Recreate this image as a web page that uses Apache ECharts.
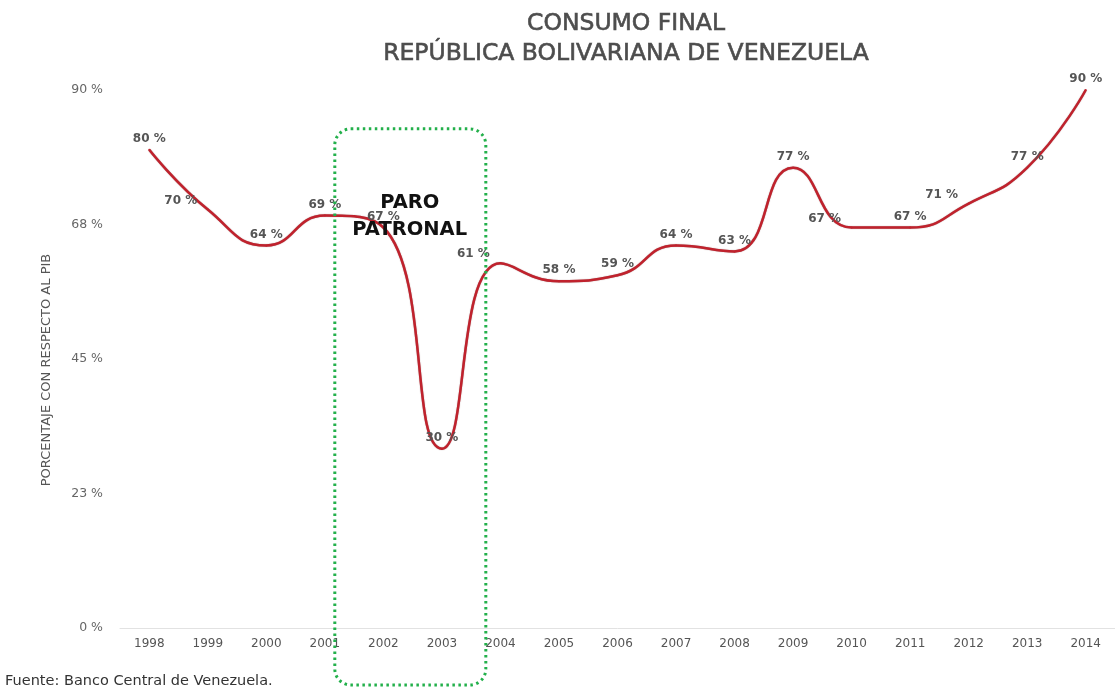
<!DOCTYPE html>
<html>
<head>
<meta charset="utf-8">
<script src="https://cdn.jsdelivr.net/npm/echarts@6/dist/echarts.min.js"></script>
<style>
html,body{margin:0;padding:0;background:#fff;}
#chart{width:1115px;height:690px;}
</style>
</head>
<body>
<div id="chart"></div>
<script>
const years = ['1998','1999','2000','2001','2002','2003','2004','2005','2006','2007','2008','2009','2010','2011','2012','2013','2014'];
const consumo = [80, 70, 64, 69, 67, 30, 61, 58, 59, 64, 63, 77, 67, 67, 71, 77, 90];
const yTicks = [0, 22.5, 45, 67.5, 90];
const titleLines = ['CONSUMO FINAL', 'REPÚBLICA BOLIVARIANA DE VENEZUELA'];
const yAxisTitle = 'PORCENTAJE CON RESPECTO AL PIB';
const annotation = 'PARO\nPATRONAL';
const fuente = 'Fuente: Banco Central de Venezuela.';

const leftShifted = ['1999', '2004', '2010', '2012'];
const font = '"DejaVu Sans", Verdana, sans-serif';

const chart = echarts.init(document.getElementById('chart'));

chart.setOption({
  animation: false,
  backgroundColor: '#fff',
  title: {
    text: titleLines.join('\n'),
    left: 621,
    top: 4,
    textAlign: 'center',
    textStyle: {
      fontFamily: font, fontSize: 23.5, fontWeight: 'normal', color: '#4d4d4d', lineHeight: 30,
      textBorderColor: '#4d4d4d', textBorderWidth: 0.6
    }
  },
  grid: { left: 120, width: 1000, top: 90, bottom: 62 },
  xAxis: {
    type: 'category',
    data: years,
    boundaryGap: true,
    axisLine: { lineStyle: { color: '#e2e2e2', width: 1 } },
    axisTick: { show: false },
    axisLabel: { color: '#555', fontFamily: font, fontSize: 12, margin: 10 }
  },
  yAxis: {
    type: 'value',
    min: yTicks[0], max: yTicks[yTicks.length - 1], interval: yTicks[1] - yTicks[0],
    axisLine: { show: false },
    axisTick: { show: false },
    splitLine: { show: false },
    axisLabel: {
      color: '#666', fontFamily: font, fontSize: 12.5, margin: 17,
      formatter: v => Math.round(v) + ' %'
    }
  },
  series: [{
    type: 'line',
    data: consumo,
    smooth: 0.5,
    symbol: 'circle',
    symbolSize: 2,
    showSymbol: true,
    itemStyle: { color: '#c0222d' },
    lineStyle: { color: '#c0222d', width: 2.5, shadowColor: 'rgba(80,0,0,0.5)', shadowBlur: 1 },
    label: {
      show: true, position: 'top', distance: 4,
      color: '#555', fontFamily: font, fontSize: 12, fontWeight: 'bold',
      formatter: p => p.value + ' %'
    },
    labelLayout: function (params) {
      if (leftShifted.indexOf(years[params.dataIndex]) >= 0) {
        return { dx: -27, dy: 2, hideOverlap: false };
      }
      return { hideOverlap: false };
    },
    z: 3
  }]
});

function drawAnnotations() {
  const p1 = chart.convertToPixel({ gridIndex: 0 }, ['2001', 83.5]);
  const p2 = chart.convertToPixel({ gridIndex: 0 }, ['2002', 0]);
  const p3 = chart.convertToPixel({ gridIndex: 0 }, ['2003', 0]);
  const step = p2[0] - p1[0];
  const x0 = p1[0] + 0.17 * step;
  const x1 = p3[0] + 0.75 * step;
  const y0 = p1[1];
  const y1 = 685;
  chart.setOption({
    graphic: [
      {
        type: 'rect', z: 10,
        shape: { x: x0, y: y0, width: x1 - x0, height: y1 - y0, r: 16 },
        style: { fill: 'none', stroke: '#23b04b', lineWidth: 3, lineDash: [2.5, 3.5] }
      },
      {
        type: 'text', z: 11,
        x: (p2[0] + step * 0.45), y: 189,
        style: {
          text: annotation, align: 'center', verticalAlign: 'top',
          fill: '#111', font: 'bold 19.5px ' + font, lineHeight: 27
        }
      },
      {
        type: 'text', z: 11, x: 47, y: 370, rotation: Math.PI / 2,
        style: {
          text: yAxisTitle, align: 'center', verticalAlign: 'middle',
          fill: '#555', font: '13px ' + font
        }
      },
      {
        type: 'text', z: 11, left: 5, top: 674,
        style: { text: fuente, fill: '#333', font: '14.5px ' + font }
      }
    ]
  });
}
drawAnnotations();
</script>
</body>
</html>
